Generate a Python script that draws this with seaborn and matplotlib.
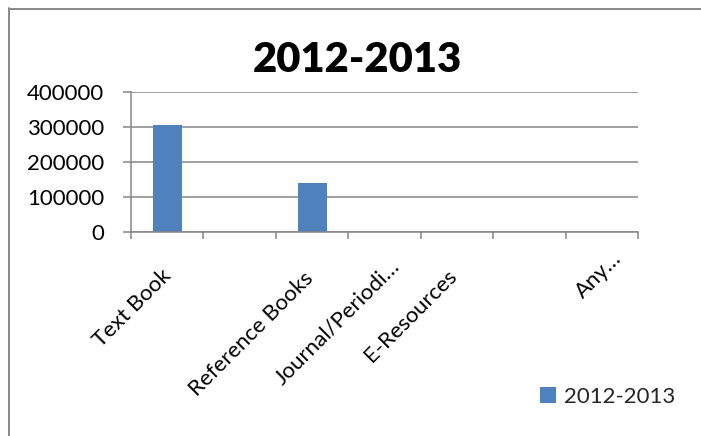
import matplotlib
matplotlib.use("Agg")
import matplotlib.pyplot as plt
import matplotlib.transforms as mtransforms
from matplotlib.lines import Line2D
import seaborn as sns
import pandas as pd

# ---- data ----
categories = ["Text Book", "Blank A", "Reference Books", "Journal/Periodicals",
              "E-Resources", "Blank B", "Any Other"]
tick_labels = ["Text Book", "", "Reference Books", "Journal/Periodi\u2026",
               "E-Resources", "", "Any\u2026"]
values = [305000, 0, 139000, 0, 0, 0, 0]
series_name = "2012-2013"
title = "2012-2013"
y_ticks = [0, 100000, 200000, 300000, 400000]

df = pd.DataFrame({"category": categories, "value": values})

sns.set_style("white")
plt.rcParams["font.family"] = ["Lato", "DejaVu Sans"]

W, H, DPI = 701, 436, 100
fig = plt.figure(figsize=(W / DPI, H / DPI), dpi=DPI)
ax = fig.add_axes([131 / W, 1 - 232 / H, 507 / W, 140 / H])

bar_color = "#4F81BD"
grid_color = "#868686"

sns.barplot(data=df, x="category", y="value", order=categories, color=bar_color,
            saturation=1, width=0.4, linewidth=0, label=series_name, ax=ax)

ax.set_xlim(-0.5, len(categories) - 0.5)
ax.set_ylim(0, 400000)
ax.set_yticks(y_ticks)
ax.set_yticklabels([str(v) for v in y_ticks], fontsize=16, color="black")
ax.set_xlabel("")
ax.set_ylabel("")

# gridlines
ax.yaxis.grid(True, color=grid_color, linewidth=1.1)
ax.set_axisbelow(True)
for s in ["top", "right"]:
    ax.spines[s].set_visible(False)
for s in ["left", "bottom"]:
    ax.spines[s].set_color(grid_color)
    ax.spines[s].set_linewidth(1.1)

ax.tick_params(axis="y", length=8 * 72 / DPI, width=1.1, color=grid_color,
               pad=19 * 72 / DPI, left=True)

# x: labels at category centres (no tick), tick marks at boundaries
ax.set_xticks(range(len(categories)))
ax.set_xticklabels(tick_labels, fontsize=16, rotation=45, ha="right", va="top",
                   rotation_mode="anchor", color="black")
ax.tick_params(axis="x", which="major", length=0, pad=34 * 72 / DPI, bottom=True)
ax.set_xticks([i - 0.5 for i in range(len(categories) + 1)], minor=True)
ax.tick_params(axis="x", which="minor", length=7 * 72 / DPI, width=1.1,
               color=grid_color, bottom=True)

offsets = [(-6, 0), (0, 0), (-9, -2), (5, 10), (-10, 0), (0, 0), (10, 18)]
for lab, (dx, dy) in zip(ax.get_xticklabels(), offsets):
    lab.set_transform(lab.get_transform() +
                      mtransforms.ScaledTranslation(dx / DPI, dy / DPI, fig.dpi_scale_trans))

# title
fig.text(357 / W, 1 - 60 / H, title, fontsize=30, fontweight="heavy",
         color="black", ha="center", va="center")

# legend
ax.legend(loc="center left", bbox_to_anchor=(540 / W, 1 - 397 / H),
          bbox_transform=fig.transFigure, frameon=False, fontsize=16,
          handlelength=0.7, handleheight=0.7, handletextpad=0.4,
          borderpad=0, borderaxespad=0)

# chart border (top and left visible in crop)
bc = "#8C8C8C"
fig.add_artist(Line2D([8.5 / W, 1], [1 - 9 / H, 1 - 9 / H], transform=fig.transFigure,
                      color=bc, linewidth=2 * 72 / DPI))
fig.add_artist(Line2D([9 / W, 9 / W], [0, 1 - 8.5 / H], transform=fig.transFigure,
                      color=bc, linewidth=2 * 72 / DPI))

fig.savefig("out.png", dpi=DPI)
